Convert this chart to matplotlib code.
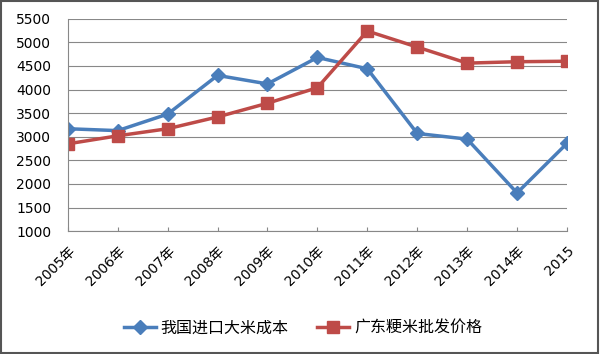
import matplotlib.pyplot as plt
from matplotlib.patches import Rectangle

plt.rcParams['font.family'] = ['DejaVu Sans', 'Noto Sans CJK SC']

years = ['2005年', '2006年', '2007年', '2008年', '2009年', '2010年',
         '2011年', '2012年', '2013年', '2014年', '2015']
import_cost = [3170, 3130, 3480, 4300, 4120, 4680, 4440, 3070, 2950, 1810, 2860]
gd_price = [2850, 3020, 3170, 3420, 3710, 4040, 5240, 4900, 4560, 4590, 4600]

fig = plt.figure(figsize=(6, 3.54), dpi=100)
ax = fig.add_axes([0.113, 0.347, 0.832, 0.6])

x = list(range(len(years)))
ax.plot(x, import_cost, color='#4A7EBB', lw=2.5, marker='D', ms=7,
        label='我国进口大米成本')
ax.plot(x, gd_price, color='#BE4B48', lw=2.5, marker='s', ms=8,
        label='广东粳米批发价格')

ax.set_ylim(1000, 5500)
ax.set_yticks(range(1000, 5501, 500))
ax.set_xlim(0, len(years) - 1)
ax.set_xticks(x)
ax.set_xticklabels(years, rotation=45, ha='right', rotation_mode='anchor')
ax.tick_params(axis='x', direction='in', length=3, color='#888888',
               labelsize=10, pad=9)
ax.tick_params(axis='y', length=0, labelsize=10, pad=12)
ax.grid(axis='y', color='#888888', lw=0.8)
ax.set_axisbelow(True)
for s in ['top', 'right']:
    ax.spines[s].set_visible(False)
for s in ['left', 'bottom']:
    ax.spines[s].set_color('#888888')

ax.legend(loc='center', bbox_to_anchor=(0.505, 0.073), bbox_transform=fig.transFigure,
          ncol=2, frameon=False, fontsize=11.5, handlelength=2.0,
          handletextpad=0.3, columnspacing=1.8)

fig.patches.append(Rectangle((0.002, 0.003), 0.994, 0.994, transform=fig.transFigure,
                             fill=False, edgecolor='#555555', lw=1.5))

fig.savefig('out.png')
